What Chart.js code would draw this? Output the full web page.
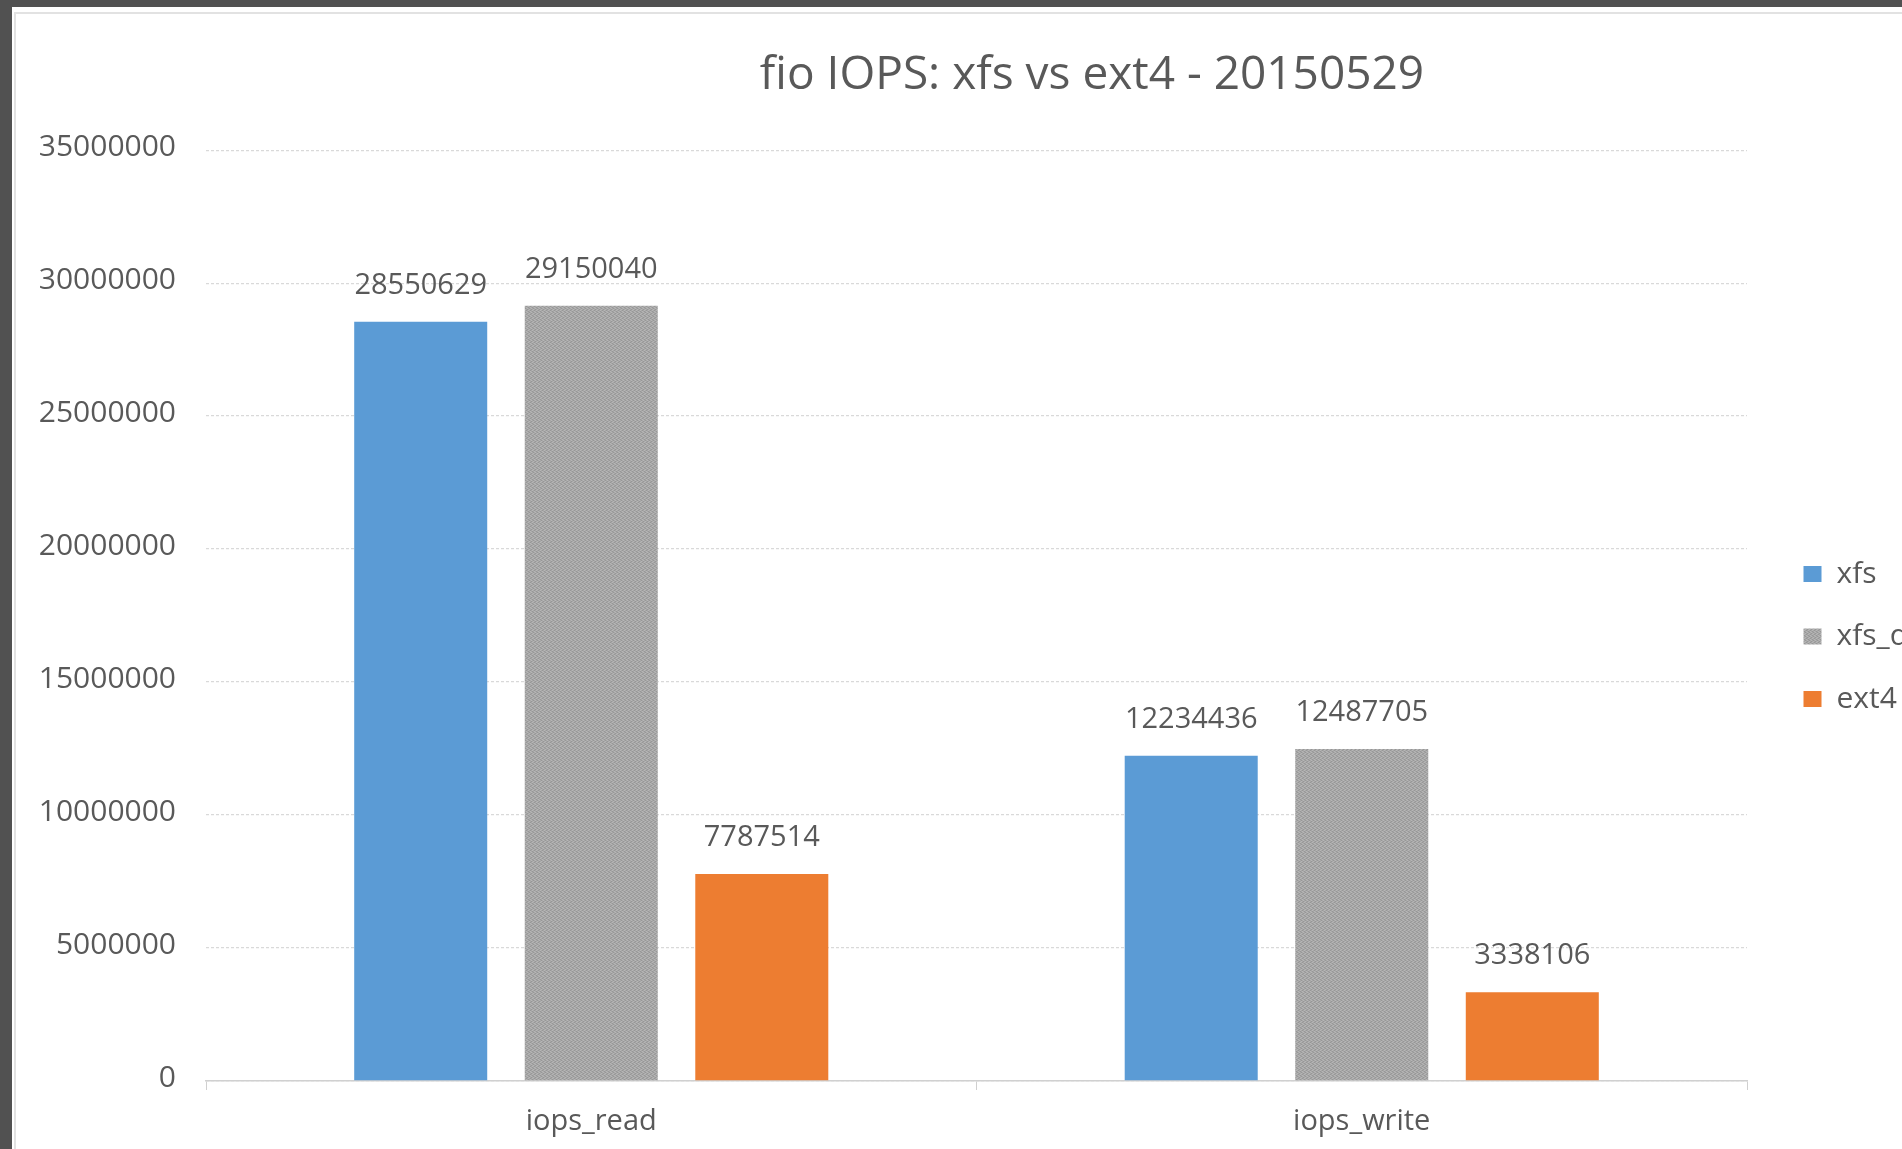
<!DOCTYPE html>
<html>
<head>
<meta charset="utf-8">
<script src="https://cdn.jsdelivr.net/npm/chart.js@4.4.1/dist/chart.umd.min.js"></script>
<style>
  html, body { margin: 0; padding: 0; width: 1902px; height: 1149px; overflow: hidden; background: #515151; }
  #panel { position: absolute; left: 12px; top: 7px; width: 1890px; height: 1142px; background: #ffffff; }
  #inner { position: absolute; left: 2px; top: 5px; right: 0; bottom: 0; border-top: 2px solid #e2e2e2; border-left: 2px solid #e2e2e2; }
  #wrap { position: absolute; left: 13px; top: 8px; width: 2158px; height: 1257px; }
</style>
</head>
<body>
<div id="panel"><div id="inner"></div></div>
<div id="wrap"><canvas id="c" width="2158" height="1257"></canvas></div>
<script>
// ---- data ----
const titleText = 'fio IOPS: xfs vs ext4 - 20150529';
const categories = ['iops_read', 'iops_write'];
const seriesNames = ['xfs', 'xfs_dax', 'ext4'];
const xfsValues = [28550629, 12234436];
const xfsDaxValues = [29150040, 12487705];
const ext4Values = [7787514, 3338106];
const yMin = 0;
const yMax = 35000000;
const yStep = 5000000;

// ---- styling ----
const FONT = '"Open Sans", "DejaVu Sans", sans-serif';
const TEXT = '#595959';

function grayPattern() {
  const pc = document.createElement('canvas');
  pc.width = 4; pc.height = 4;
  const g = pc.getContext('2d');
  g.fillStyle = '#a7a7a7'; g.fillRect(0, 0, 4, 4);
  g.fillStyle = '#979797';
  g.fillRect(0, 0, 1, 1); g.fillRect(2, 1, 1, 1); g.fillRect(1, 2, 1, 1); g.fillRect(3, 3, 1, 1);
  g.fillStyle = '#b6b6b6';
  g.fillRect(2, 0, 1, 1); g.fillRect(0, 1, 1, 1); g.fillRect(3, 2, 1, 1); g.fillRect(1, 3, 1, 1);
  return g.createPattern(pc, 'repeat');
}

const valueLabels = {
  id: 'valueLabels',
  afterDatasetsDraw(chart) {
    const ctx = chart.ctx;
    ctx.save();
    ctx.font = '29px ' + FONT;
    ctx.fillStyle = TEXT;
    ctx.textAlign = 'center';
    ctx.textBaseline = 'alphabetic';
    chart.data.datasets.forEach((ds, i) => {
      chart.getDatasetMeta(i).data.forEach((bar, j) => {
        ctx.fillText(String(ds.data[j]), bar.x, bar.y - 28);
      });
    });
    ctx.restore();
  }
};

const PLOT_LEFT = 193;      // canvas px
const LEGEND_GAP = 24;      // between plot and legend
const RIGHT_TOTAL = 400;    // legend + filler width
const X_AXIS_H = 184;

const ctx = document.getElementById('c').getContext('2d');
new Chart(ctx, {
  type: 'bar',
  data: {
    labels: categories,
    datasets: [
      { label: seriesNames[0], data: xfsValues, backgroundColor: '#5b9bd5', yAxisID: 'y' },
      { label: seriesNames[1], data: xfsDaxValues, backgroundColor: grayPattern(), yAxisID: 'y' },
      { label: seriesNames[2], data: ext4Values, backgroundColor: '#ed7d31', yAxisID: 'y' }
    ]
  },
  options: {
    responsive: false,
    animation: false,
    layout: { padding: 0 },
    datasets: { bar: { categoryPercentage: 0.664, barPercentage: 0.78 } },
    plugins: {
      tooltip: { enabled: false },
      title: {
        display: true,
        text: titleText,
        color: TEXT,
        font: { family: FONT, size: 46, weight: 'normal', lineHeight: 1.2 },
        padding: { top: 40, bottom: 47 }
      },
      legend: {
        display: true,
        position: 'right',
        align: 'center',
        labels: {
          color: TEXT,
          font: { family: FONT, size: 30 },
          boxWidth: 18,
          boxHeight: 16,
          padding: 32.5
        }
      }
    },
    scales: {
      x: {
        type: 'category',
        grid: { display: true, drawOnChartArea: false, drawTicks: true, tickLength: 9, color: '#d0d0d0', offset: true },
        border: { display: true, color: '#d0d0d0', width: 1.5 },
        ticks: { color: TEXT, font: { family: FONT, size: 29 }, padding: 14 },
        afterFit(s) { s.height = X_AXIS_H; }
      },
      y: {
        type: 'linear',
        position: 'left',
        min: yMin,
        max: yMax,
        grid: { color: '#d9d9d9', lineWidth: 1.3, drawTicks: false },
        border: { display: false, dash: [3, 2] },
        ticks: { stepSize: yStep, color: TEXT, font: { family: FONT, size: 30 }, padding: 30, labelOffset: -3, callback: v => String(v) },
        afterFit(s) { s.width = PLOT_LEFT; }
      },
      y2: {
        type: 'linear',
        position: 'right',
        weight: 0,
        grid: { display: false },
        border: { display: false },
        ticks: { display: false },
        afterFit(s) { s.width = LEGEND_GAP; }
      },
      y3: {
        type: 'linear',
        position: 'right',
        weight: 2000,
        grid: { display: false },
        border: { display: false },
        ticks: { display: false },
        afterFit(s) { s.width = Math.max(0, RIGHT_TOTAL - (s.chart.legend ? s.chart.legend.width : 0)); }
      }
    }
  },
  plugins: [valueLabels]
});
</script>
</body>
</html>
